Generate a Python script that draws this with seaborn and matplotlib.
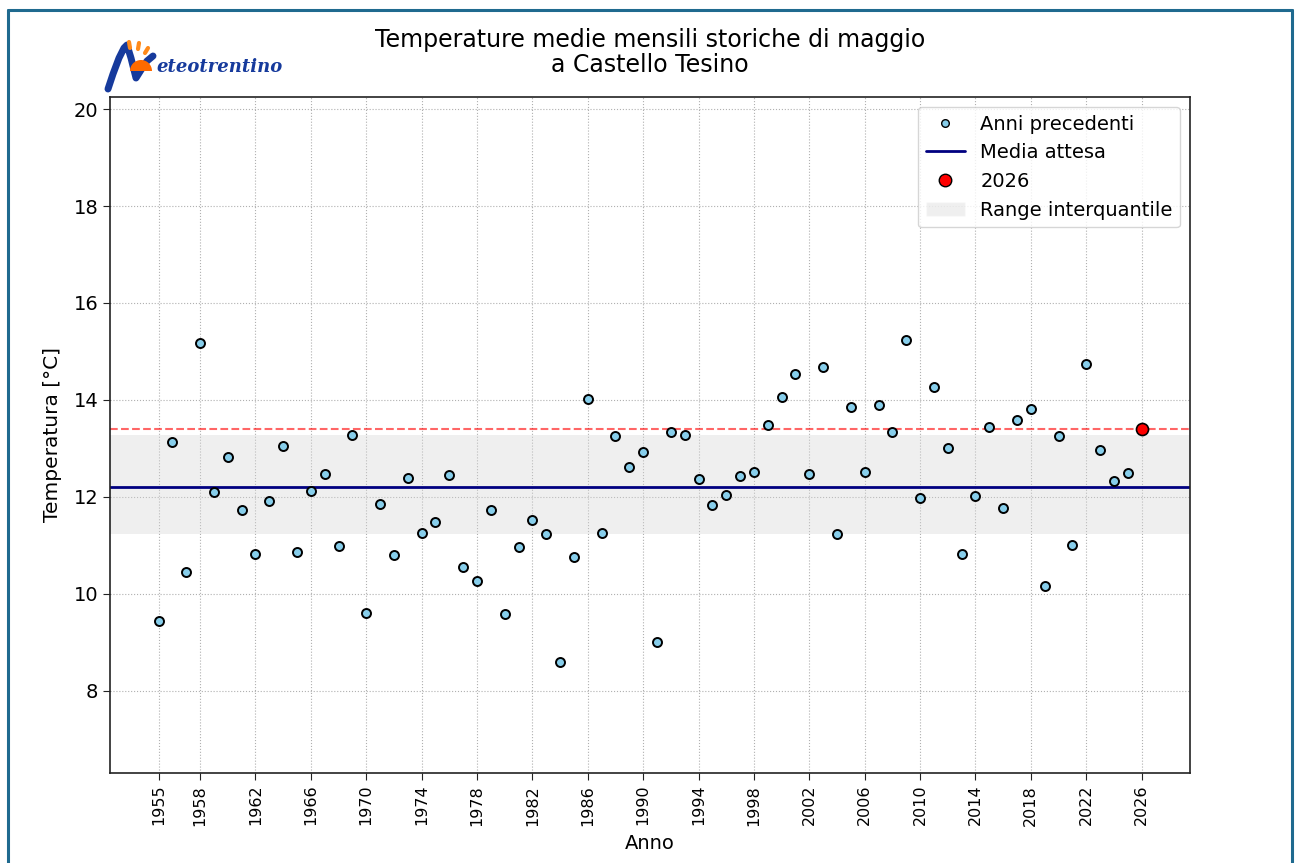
import numpy as np
import pandas as pd
import matplotlib
matplotlib.use('Agg')
import matplotlib.pyplot as plt
import seaborn as sns
from matplotlib.lines import Line2D
from matplotlib.patches import Patch, Wedge

# dati
anni = list(range(1955, 2026))
temp = [9.43, 13.13, 10.45, 15.17, 12.09, 12.83, 11.73, 10.81, 11.91, 13.05,
        10.87, 12.11, 12.47, 10.98, 13.28, 9.61, 11.86, 10.79, 12.38, 11.26,
        11.47, 12.44, 10.55, 10.27, 11.72, 9.59, 10.97, 11.52, 11.23, 8.60,
        10.76, 14.02, 11.26, 13.26, 12.62, 12.93, 9.00, 13.34, 13.27, 12.36,
        11.83, 12.03, 12.42, 12.52, 13.49, 14.06, 14.53, 12.48, 14.67, 11.24,
        13.85, 12.52, 13.90, 13.34, 15.24, 11.97, 14.26, 13.01, 10.81, 12.01,
        13.45, 11.77, 13.58, 13.82, 10.15, 13.26, 11.00, 14.75, 12.97, 12.32,
        12.50]
anno_corrente = 2026
temp_corrente = 13.39
media_attesa = 12.21
q25, q75 = 11.23, 13.27
xticks = [1955] + list(range(1958, 2027, 4))
yticks = list(range(8, 21, 2))

df = pd.DataFrame({'anno': anni, 'temp': temp})

sns.set_style('ticks')
plt.rcParams['font.family'] = ['DejaVu Sans']
plt.rcParams.update({'text.color': 'black', 'axes.labelcolor': 'black',
                     'xtick.color': 'black', 'ytick.color': 'black'})

fig = plt.figure(figsize=(12.95, 8.63), dpi=100)
ax = fig.add_axes([0.085, 0.1043, 0.834, 0.7833])

ax.axhspan(q25, q75, color='lightgrey', alpha=0.35, lw=0, zorder=1)
ax.axhline(media_attesa, color='navy', lw=2, zorder=2)
ax.axhline(temp_corrente, color='red', ls='--', lw=1.5, alpha=0.6, zorder=2)
sns.scatterplot(data=df, x='anno', y='temp', ax=ax, color='skyblue',
                edgecolor='black', linewidth=1.4, s=42, zorder=3, legend=False)
ax.scatter([anno_corrente], [temp_corrente], color='red', edgecolor='black',
           linewidth=1.2, s=75, zorder=4)

ax.set_xlim(1951.5, 2029.5)
ax.set_ylim(6.3, 20.25)
ax.set_xticks(xticks)
ax.set_xticklabels([str(a) for a in xticks], rotation=90, fontsize=11.5)
ax.set_yticks(yticks)
ax.tick_params(axis='y', labelsize=14)
ax.grid(True, linestyle=':', color='#b0b0b0', lw=0.8)
for s in ax.spines.values():
    s.set_color('#222222')
    s.set_linewidth(1.2)
ax.tick_params(direction='out', length=5, color='#222222')

ax.set_xlabel('Anno', fontsize=14, labelpad=6)
ax.set_ylabel('Temperatura [°C]', fontsize=14.5, labelpad=8)
ax.set_title('Temperature medie mensili storiche di maggio\na Castello Tesino',
             fontsize=17, pad=18, linespacing=1.05)

handles = [
    Line2D([], [], marker='o', ls='', markerfacecolor='skyblue',
           markeredgecolor='black', markersize=5.5, markeredgewidth=1),
    Line2D([], [], color='navy', lw=2),
    Line2D([], [], marker='o', ls='', markerfacecolor='red',
           markeredgecolor='black', markersize=9, markeredgewidth=1),
    Patch(facecolor='lightgrey', alpha=0.35),
]
ax.legend(handles, ['Anni precedenti', 'Media attesa', '2026',
                    'Range interquantile'], loc='upper right', fontsize=14,
          borderaxespad=0.5)

# logo Meteotrentino (approssimato), coordinate in pixel
lax = fig.add_axes([100 / 1295, 1 - 100 / 863, 190 / 1295, 65 / 863])
lax.set_xlim(100, 290)
lax.set_ylim(100, 35)
lax.axis('off')
lax.plot([108, 113, 119, 124, 127, 131, 136, 141, 147, 153],
         [89, 74, 58, 48, 45, 58, 78, 70, 61, 56],
         color='#163a9c', lw=5, solid_joinstyle='round',
         solid_capstyle='round', zorder=1)
lax.add_patch(Wedge((141, 71), 11, 180, 360, color='#ff6a00', lw=0,
                    zorder=2))
for (x0, y0), (x1, y1) in [((129, 42), (130, 48)), ((139, 43), (138, 49)),
                           ((148, 48), (145, 53))]:
    lax.plot([x0, x1], [y0, y1], color='#ff8a1a', lw=3,
             solid_capstyle='round', zorder=2)
lax.text(156, 72, 'eteotrentino', fontsize=13, color='#163a9c',
         style='italic', fontweight='bold', family='DejaVu Serif',
         va='baseline', zorder=3)

# cornice
for xs, ys in [([0.006, 0.006], [0, 0.988]), ([0.006, 0.998], [0.988, 0.988]),
               ([0.998, 0.998], [0, 0.988])]:
    fig.add_artist(Line2D(xs, ys, transform=fig.transFigure,
                          color='#1f6a8f', lw=2.2))

fig.savefig('out.png', dpi=100)
